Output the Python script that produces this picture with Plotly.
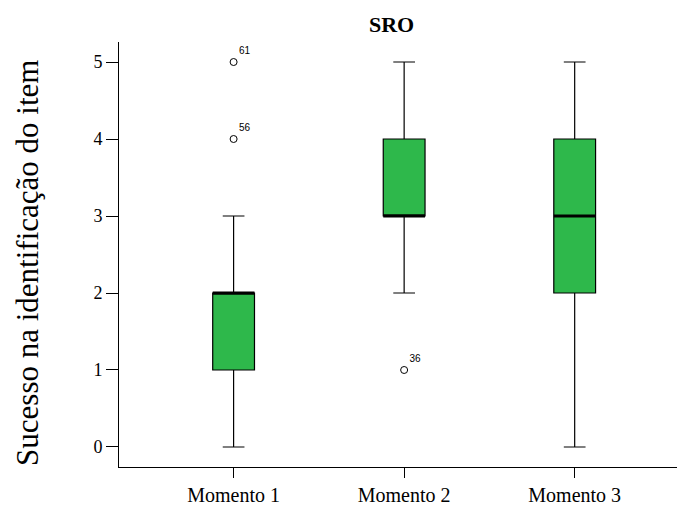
import plotly.graph_objects as go

# Box-plot summaries per moment
categories = ["Momento 1", "Momento 2", "Momento 3"]
positions = [1, 2, 3]
lower_fence = [0, 2, 0]
q1 = [1, 3, 2]
median = [2, 3, 3]
q3 = [2, 4, 4]
upper_fence = [3, 5, 5]

# Outlying cases (case number shown next to the circle)
outlier_x = [1, 1, 2]
outlier_y = [5, 4, 1]
outlier_case = ["61", "56", "36"]

y_ticks = [0, 1, 2, 3, 4, 5]

GREEN = "#2eb84b"
BOX_W = 0.245
SERIF = "Liberation Serif"

fig = go.Figure()

fig.add_trace(go.Box(
    x=positions, q1=q1, median=median, q3=q3,
    lowerfence=lower_fence, upperfence=upper_fence,
    width=BOX_W, whiskerwidth=0.52,
    fillcolor=GREEN, line=dict(color="black", width=1.2),
    boxpoints=False, showlegend=False, hoverinfo="skip",
))

# Thick median bars
for p, m in zip(positions, median):
    fig.add_trace(go.Scatter(
        x=[p - BOX_W / 2, p + BOX_W / 2], y=[m, m], mode="lines",
        line=dict(color="black", width=3), showlegend=False, hoverinfo="skip",
    ))

fig.add_trace(go.Scatter(
    x=outlier_x, y=outlier_y, mode="markers+text",
    marker=dict(symbol="circle-open", size=7, color="black", line=dict(width=1)),
    text=outlier_case, textposition="top right",
    textfont=dict(family="Liberation Sans", size=10, color="black"),
    showlegend=False, hoverinfo="skip",
))

fig.update_layout(
    width=678, height=505,
    margin=dict(l=119, r=1, t=42, b=38, autoexpand=False),
    paper_bgcolor="white", plot_bgcolor="white",
    font=dict(family=SERIF, color="black"),
    xaxis=dict(
        range=[0.328, 3.6], tickvals=positions, ticktext=categories,
        showline=True, linecolor="black", linewidth=1,
        ticks="outside", ticklen=10, tickcolor="black",
        showgrid=False, zeroline=False, automargin=False,
        tickfont=dict(family=SERIF, size=20, color="black"),
    ),
    yaxis=dict(
        range=[-0.26, 5.26], tickvals=y_ticks,
        showline=True, linecolor="black", linewidth=1,
        ticks="outside", ticklen=12, tickcolor="black",
        showgrid=False, zeroline=False, automargin=False,
        tickfont=dict(family=SERIF, size=18, color="black"),
    ),
    annotations=[
        dict(text="<b>SRO</b>", xref="paper", yref="paper", x=0.4875, y=1.04,
             xanchor="center", yanchor="middle", showarrow=False,
             font=dict(family=SERIF, size=22, color="black")),
        dict(text="Sucesso na identificação do item", xref="paper", yref="paper",
             x=-0.165, y=0.48, textangle=-90, xanchor="center", yanchor="middle",
             showarrow=False, font=dict(family=SERIF, size=31, color="black")),
    ],
)

fig.write_html("out.html")
